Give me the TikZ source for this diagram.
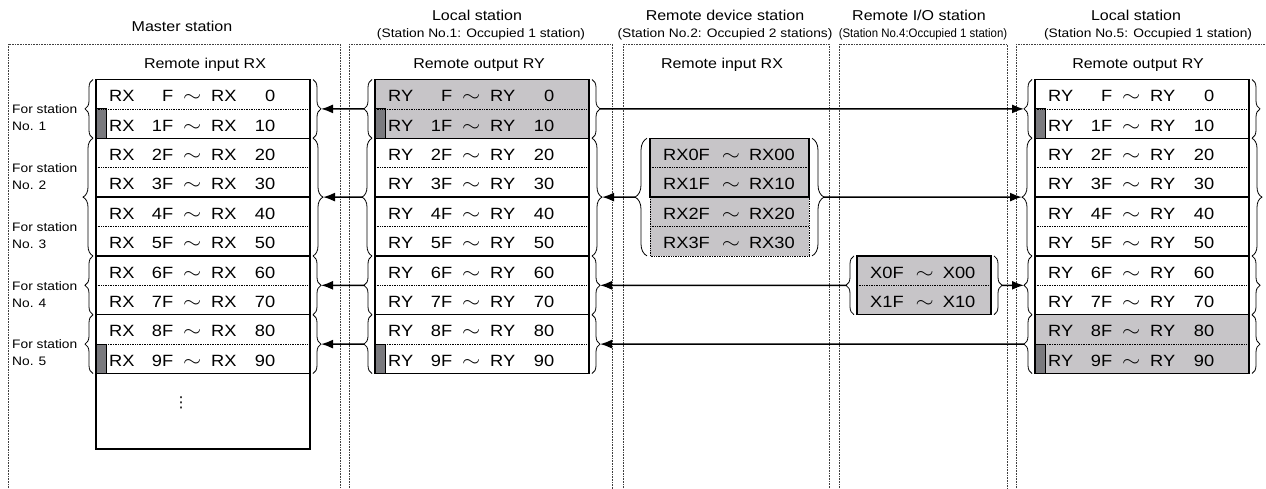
\documentclass[tikz,border=0pt]{standalone}
\usepackage{graphicx}
\usepackage{fontspec}
\setmainfont{Liberation Sans}[FakeStretch=1.12]
\newfontfamily\symfont{DejaVu Sans}
\usetikzlibrary{arrows.meta,decorations.pathreplacing}

\definecolor{regfill}{RGB}{199,197,200}
\definecolor{markfill}{RGB}{122,122,126}
\newcommand\wave{\scalebox{1.35}[1.1]{$\sim$}}
\newcommand\regtxt[3]{\makebox[64pt]{#1\hfill#2}\makebox[38pt]{\wave}\makebox[64pt]{#1\hfill#3}}

\begin{document}
\begin{tikzpicture}[x=1pt, y=-1pt,
    panel/.style={draw=black!75, densely dotted, line width=0.6pt},
    head/.style={font=\fontsize{14.3}{16}\selectfont},
    subhead/.style={font=\fontsize{12.3}{14}\selectfont},
    regrow/.style={font=\fontsize{16.3}{19}\selectfont, inner sep=0pt, anchor=base west},
    note/.style={font=\fontsize{12.3}{17}\selectfont, align=left, inner sep=0pt, anchor=north west},
    grp/.style={line width=1.4pt},
    sep/.style={densely dotted, line width=0.7pt},
    marker/.style={fill=markfill, draw=black, line width=0.9pt},
    brc/.style={decorate, decoration={brace, amplitude=#1, raise=3pt}, line width=0.8pt},
    brc/.default=8pt,
    link/.style={-{Latex[length=12pt,width=9pt]}, line width=1.6pt}]
    \useasboundingbox (0,0) rectangle (1266,488);

    % station panels
    \draw[panel] (8,44) rectangle (340,495);
    \draw[panel] (349,44) rectangle (612,495);
    \draw[panel] (623,44) rectangle (829,495);
    \draw[panel] (839,44) rectangle (1007,495);
    \draw[panel] (1016,44) rectangle (1275,495);

    \node[head] (mshead) at (182,26) {Master station};
    \node[head] (ls1head) at (477,15) {Local station};
    \node[subhead] (ls1sub) at (481,34) {(Station No.1: Occupied 1 station)};
    \node[head] (rdhead) at (725,15) {Remote device station};
    \node[subhead] (rdsub) at (725,34) {(Station No.2: Occupied 2 stations)};
    \node[head] (riohead) at (919,15) {Remote I/O station};
    \node[subhead] (riosub) at (923,34) {\scalebox{0.83}[1]{(Station No.4:Occupied 1 station)}};
    \node[head] (ls5head) at (1136,15) {Local station};
    \node[subhead] (ls5sub) at (1148,34) {(Station No.5: Occupied 1 station)};

    \node[head] (msreg) at (205,65) {Remote input RX};
    \node[head] (ls1reg) at (479,65) {Remote output RY};
    \node[head] (rdreg) at (722,65) {Remote input RX};
    \node[head] (ls5reg) at (1138,65) {Remote output RY};

    % shaded areas
    \fill[regfill] (375,79.5) rectangle (589,138.3);
    \fill[regfill] (1035,314.7) rectangle (1249,373.5);
    \fill[regfill] (650,138.3) rectangle (809,255.9);
    \fill[regfill] (857,255.9) rectangle (991,314.7);

    % master and local station registers
    \foreach \tb/\L/\R/\p in {ms/96/310/RX, ls1/375/589/RY, ls5/1035/1249/RY} {
        \foreach \i in {1,9}
            \filldraw[marker] (\L,{79.5+29.4*\i}) rectangle (\L+10,{79.5+29.4*(\i+1)});
        \foreach \i in {1,3,5,7,9}
            \draw[sep] (\L,{79.5+29.4*\i}) -- (\R,{79.5+29.4*\i});
        \foreach \i in {2,4,6,8}
            \draw[grp] (\L,{79.5+29.4*\i}) -- (\R,{79.5+29.4*\i});
        \draw[grp] (\L,79.5) rectangle (\R,373.5);
        \foreach \i [evaluate=\i as \y using 101.7+29.4*\i] in {0,...,9}
            \node[regrow] (\tb-\i) at (\L+13,\y) {\regtxt{\p}{\ifnum\i=0 \else\i\fi F}{\ifnum\i=0 \else\i\fi 0}};
        \foreach \a/\b/\s/\w in {79.5/138.3/1/8pt, 138.3/255.9/2/10pt, 255.9/314.7/4/8pt, 314.7/373.5/5/8pt} {
            \draw[brc=\w] (\L,\b) -- (\L,\a) coordinate[midway, xshift=-3pt-\w] (\tb L\s);
            \draw[brc=\w] (\R,\a) -- (\R,\b) coordinate[midway, xshift=3pt+\w] (\tb R\s);
        }
    }
    \draw[grp] (96,373.5) -- (96,449) -- (310,449) -- (310,373.5);
    \node[font=\symfont\fontsize{15}{18}\selectfont] (more) at (181,403) {⋮};

    \foreach \s/\c in {1/108.9, 2/167.7, 3/226.5, 4/285.3, 5/344.1}
        \node[note] (for\s) at (12,\c-4.3) {For station\\No. \s};

    % remote device station
    \draw[sep] (650,197.1) -- (650,255.9) -- (809,255.9) -- (809,197.1);
    \draw[sep] (650,167.7) -- (809,167.7);
    \draw[sep] (650,226.5) -- (809,226.5);
    \draw[grp] (650,138.3) rectangle (809,197.1);
    \foreach \i [evaluate=\i as \y using 160.5+29.4*\i] in {0,...,3}
        \node[regrow] (rd-\i) at (663,\y) {RX\i F\hspace{12pt}\wave\hspace{9pt}RX\i 0};
    \draw[brc=12pt] (650,255.9) -- (650,138.3) coordinate[midway, xshift=-15pt] (rdL);
    \draw[brc=12pt] (809,138.3) -- (809,255.9) coordinate[midway, xshift=15pt] (rdR);

    % remote I/O station
    \draw[sep] (857,285.3) -- (991,285.3);
    \draw[grp] (857,255.9) rectangle (991,314.7);
    \node[regrow] (rio-0) at (870,278.1) {X0F\hspace{12pt}\wave\hspace{9pt}X00};
    \node[regrow] (rio-1) at (870,307.5) {X1F\hspace{12pt}\wave\hspace{9pt}X10};
    \draw[brc] (857,314.7) -- (857,255.9) coordinate[midway, xshift=-11pt] (rioL);
    \draw[brc] (991,255.9) -- (991,314.7) coordinate[midway, xshift=11pt] (rioR);

    % link refresh
    \draw[link] (ls1L1) -- (msR1);
    \draw[link] (ls1R1) -- (ls5L1);
    \draw[link] (ls1L2) -- (msR2);
    \draw[link] (rdL) -- (ls1R2);
    \draw[link] (rdR) -- (ls5L2);
    \draw[link] (ls1L4) -- (msR4);
    \draw[link] (rioL) -- (ls1R4);
    \draw[link] (rioR) -- (ls5L4);
    \draw[link] (ls1L5) -- (msR5);
    \draw[link] (ls5L5) -- (ls1R5);
\end{tikzpicture}
\end{document}
